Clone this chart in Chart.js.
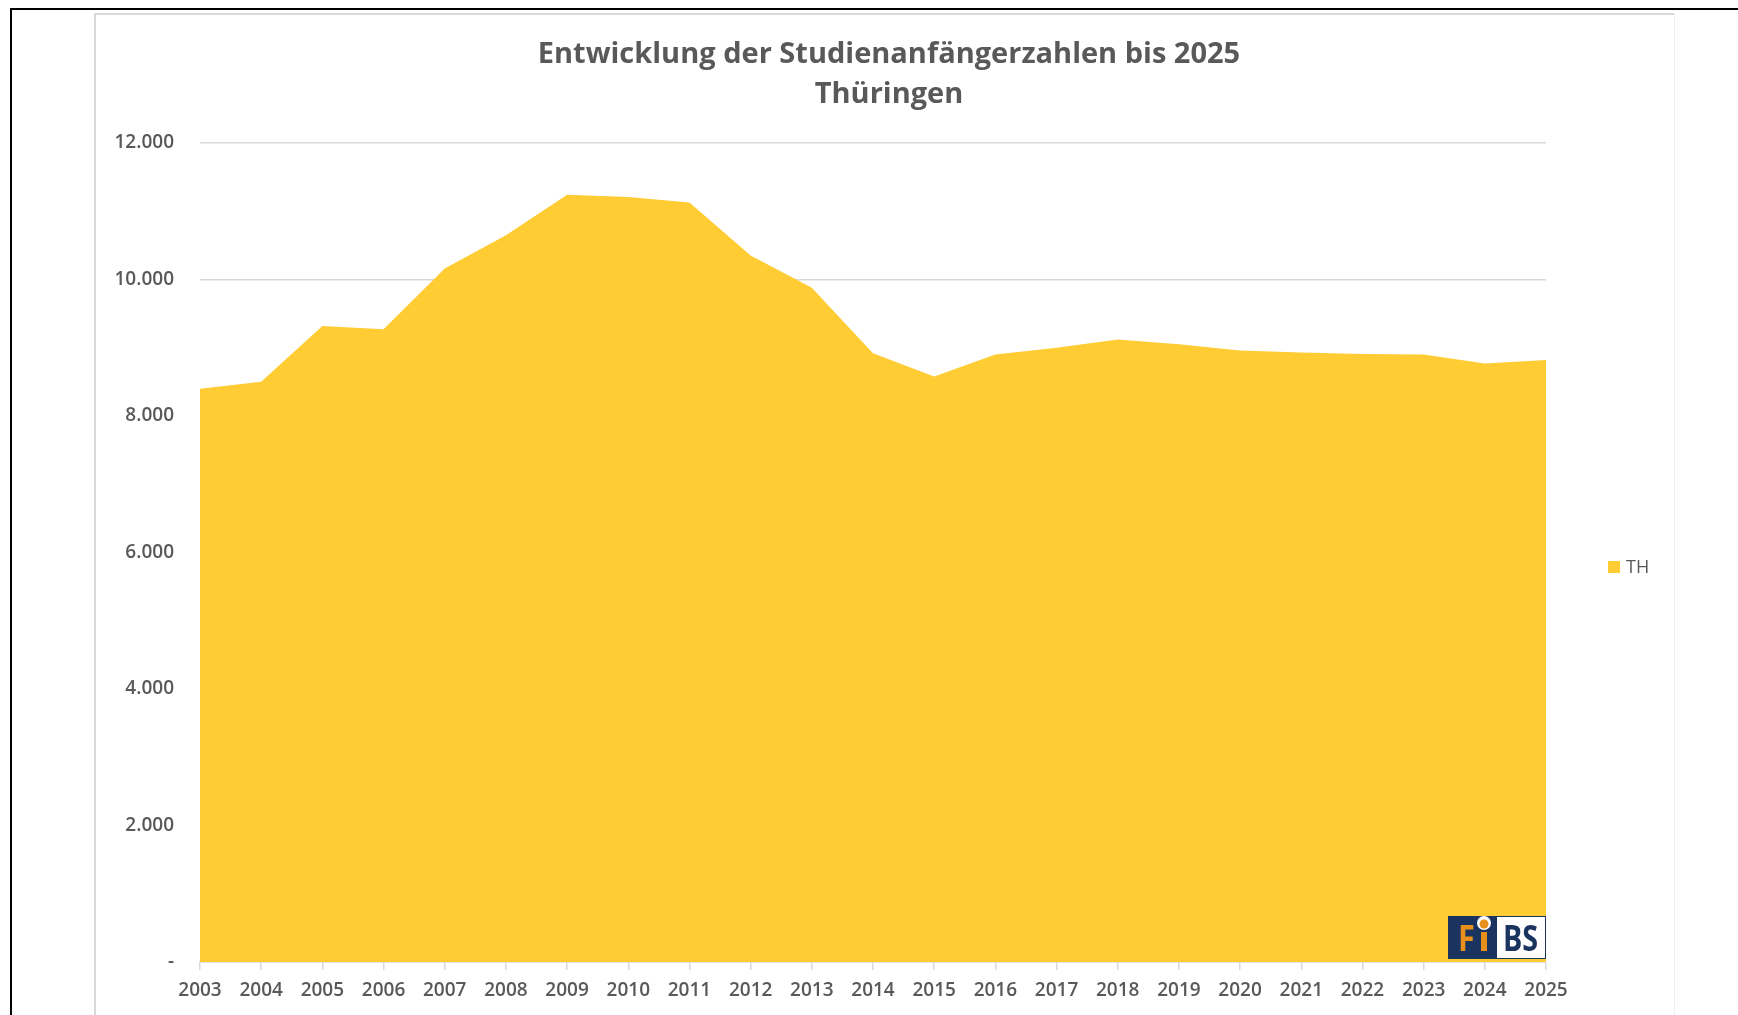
<!DOCTYPE html>
<html><head><meta charset="utf-8">
<script src="https://cdn.jsdelivr.net/npm/chart.js@4.4.1/dist/chart.umd.min.js"></script>
<style>
html,body{margin:0;padding:0;background:#fff;}
#wrap{position:relative;width:1738px;height:1015px;overflow:hidden;background:#fff;}
canvas{position:absolute;left:0;top:0;}
.ln{position:absolute;pointer-events:none;}
</style></head><body>
<div id="wrap">
<canvas id="c" width="1738" height="1015"></canvas>
<div class="ln" style="left:10px;top:8px;width:1728px;height:2px;background:#000"></div>
<div class="ln" style="left:10px;top:8px;width:2px;height:1007px;background:#000"></div>
<div class="ln" style="left:94px;top:13px;width:1580px;height:2px;background:#d9d9d9"></div>
<div class="ln" style="left:94px;top:13px;width:2px;height:1002px;background:#d9d9d9"></div>
<div class="ln" style="left:1674px;top:13px;width:1px;height:1002px;background:#efefef"></div>
</div>
<script>
const years = ['2003','2004','2005','2006','2007','2008','2009','2010','2011','2012','2013','2014','2015','2016','2017','2018','2019','2020','2021','2022','2023','2024','2025'];
const studienanfaengerTH = [8400,8500,9320,9270,10160,10650,11240,11210,11130,10350,9880,8920,8580,8900,9000,9120,9050,8960,8930,8910,8900,8770,8820];
const yTickValues = [0,2000,4000,6000,8000,10000,12000];
const seriesLabel = 'TH';
const titleLines = ['Entwicklung der Studienanfängerzahlen bis 2025','Thüringen'];

const TEXT = '#595959';
const FILL = '#FFCC33';
const NAVY = '#1a335f';
const ORANGE = '#e8901c';

function fmt(v){ return v === 0 ? '-' : String(v).replace(/\B(?=(\d{3})+(?!\d))/g,'.'); }

const extras = {
  id:'extras',
  afterDraw(chart){
    const ctx = chart.ctx, a = chart.chartArea;
    ctx.save();
    const lx = a.right + 62, ly = 567;
    ctx.fillStyle = FILL;
    ctx.fillRect(lx, ly-6, 12, 12);
    ctx.fillStyle = TEXT;
    ctx.font = '18px "Open Sans"';
    ctx.textBaseline = 'middle';
    ctx.textAlign = 'left';
    ctx.fillText(seriesLabel, lx + 18, ly + 1);
    const R = a.right, B = a.bottom - 3;
    const L = R - 98, T = B - 43;
    ctx.fillStyle = NAVY;
    ctx.fillRect(L, T, 98, 43);
    ctx.fillStyle = '#fff';
    ctx.fillRect(L + 49, T + 1, 48, 41);
    ctx.beginPath(); ctx.arc(L + 36, T + 7, 7, 0, Math.PI*2); ctx.fill();
    ctx.fillStyle = ORANGE;
    ctx.beginPath(); ctx.arc(L + 36, T + 8, 4.5, 0, Math.PI*2); ctx.fill();
    ctx.fillRect(L + 33, T + 16, 6, 19);
    ctx.save();
    ctx.translate(L + 10, B - 8);
    ctx.scale(0.85, 1);
    ctx.font = 'bold 36px "Open Sans"';
    ctx.textBaseline = 'alphabetic';
    ctx.fillStyle = ORANGE;
    ctx.fillText('F', 0, 0);
    ctx.restore();
    ctx.save();
    ctx.translate(L + 55, B - 8);
    ctx.scale(0.82, 1);
    ctx.font = 'bold 35px "Open Sans"';
    ctx.textBaseline = 'alphabetic';
    ctx.fillStyle = NAVY;
    ctx.fillText('BS', 0, 0);
    ctx.restore();
    ctx.restore();
  }
};

new Chart(document.getElementById('c'), {
  type:'line',
  data:{
    labels: years,
    datasets:[{
      label: seriesLabel,
      data: studienanfaengerTH,
      fill:'origin',
      backgroundColor: FILL,
      borderWidth:0,
      borderColor: FILL,
      pointRadius:0,
      tension:0
    }]
  },
  options:{
    responsive:false,
    animation:false,
    devicePixelRatio:1,
    layout:{padding:{top:20,left:95,right:55,bottom:0}},
    plugins:{
      legend:{display:false},
      tooltip:{enabled:false},
      title:{
        display:true,
        text:titleLines,
        color:TEXT,
        font:{family:'"Open Sans"',size:29,weight:'700',lineHeight:1.3793},
        padding:{top:15,bottom:28}
      }
    },
    scales:{
      x:{
        type:'category',
        offset:false,
        grid:{drawOnChartArea:false,drawTicks:true,tickLength:8,color:'#d9d9d9',lineWidth:1.5},
        border:{display:true,color:'#d9d9d9',width:1.5},
        ticks:{color:TEXT,font:{family:'"Open Sans"',size:19,weight:'600'},padding:9,maxRotation:0,autoSkip:false},
        afterFit(s){ s.height = 53; }
      },
      y:{
        min:0,max:12000,
        afterBuildTicks(s){ s.ticks = yTickValues.map(v=>({value:v})); },
        grid:{color:'#d9d9d9',lineWidth:1.5,drawTicks:false},
        border:{display:false},
        ticks:{color:TEXT,font:{family:'"Open Sans"',size:19,weight:'600'},padding:26,callback:(v)=>fmt(v)},
        afterFit(s){ s.width = 105; }
      },
      y2:{
        position:'right',
        display:true,
        grid:{display:false},
        border:{display:false},
        ticks:{display:false},
        afterFit(s){ s.width = 137; }
      }
    }
  },
  plugins:[extras]
});
</script>
</body></html>
